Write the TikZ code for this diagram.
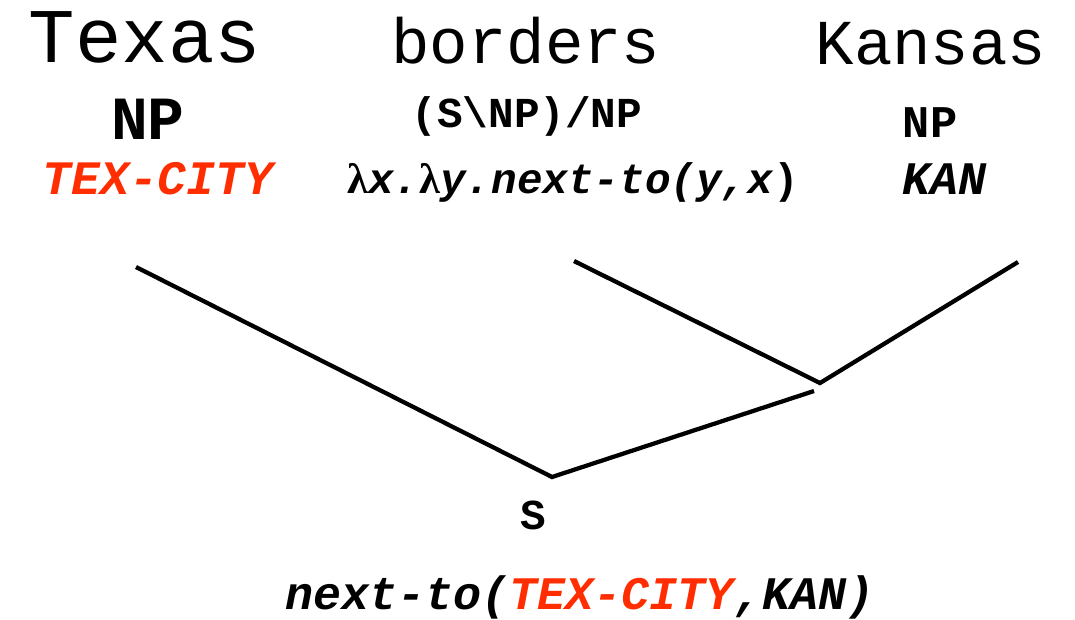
\documentclass[tikz,border=0pt]{standalone}
\usepackage{fontspec}
\setmainfont{Liberation Mono}
\newfontfamily\lamfont{Liberation Serif}
\definecolor{hot}{RGB}{255,45,0}
\begin{document}
\begin{tikzpicture}[x=0.75pt,y=-0.75pt,
  word/.style={anchor=base,inner sep=0pt},
  cat/.style={anchor=base,inner sep=0pt,font=\bfseries},
  sem/.style={anchor=base,inner sep=0pt,font=\bfseries\itshape},
  branch/.style={line width=3.2pt}]
\useasboundingbox (0,0) rectangle (1075,619);
\node[word,font=\fontsize{58}{60}\selectfont] (tex) at (145,62) {Texas};
\node[word,font=\fontsize{48}{50}\selectfont] (bor) at (526,63) {borders};
\node[word,font=\fontsize{48}{50}\selectfont] (kan) at (931,64) {Kansas};
\node[cat,font=\bfseries\fontsize{46}{48}\selectfont] (np1) at (148,139) {NP};
\node[cat,font=\bfseries\fontsize{32}{34}\selectfont] (snp) at (527,127) {(S\textbackslash NP)/NP};
\node[cat,font=\bfseries\fontsize{34}{36}\selectfont] (np2) at (930,137) {NP};
\node[sem,font=\bfseries\itshape\fontsize{36}{38}\selectfont,text=hot] (tc) at (158,194) {TEX-CITY};
\node[sem,font=\bfseries\itshape\fontsize{32}{34}\selectfont] (lam) at (573,193) {{\upshape\lamfont λ}x.{\upshape\lamfont λ}y.next-to(y,x{\upshape )}};
\node[sem,font=\bfseries\itshape\fontsize{35}{37}\selectfont] (kn) at (944,194) {KAN};
\node[cat,font=\bfseries\fontsize{32}{34}\selectfont] (s) at (533,529) {S};
\node[sem,font=\bfseries\itshape\fontsize{35}{37}\selectfont] (res) at (580,609) {next-to({\color{hot}TEX-CITY},KAN)};
\coordinate (a1) at (136,267);
\coordinate (root) at (552,477);
\coordinate (a2) at (814,391);
\coordinate (b1) at (574,261);
\coordinate (mid) at (820,383);
\coordinate (b2) at (1018,262);
\draw[branch] (a1) -- (root) -- (a2);
\draw[branch] (b1) -- (mid) -- (b2);
\end{tikzpicture}
\end{document}
